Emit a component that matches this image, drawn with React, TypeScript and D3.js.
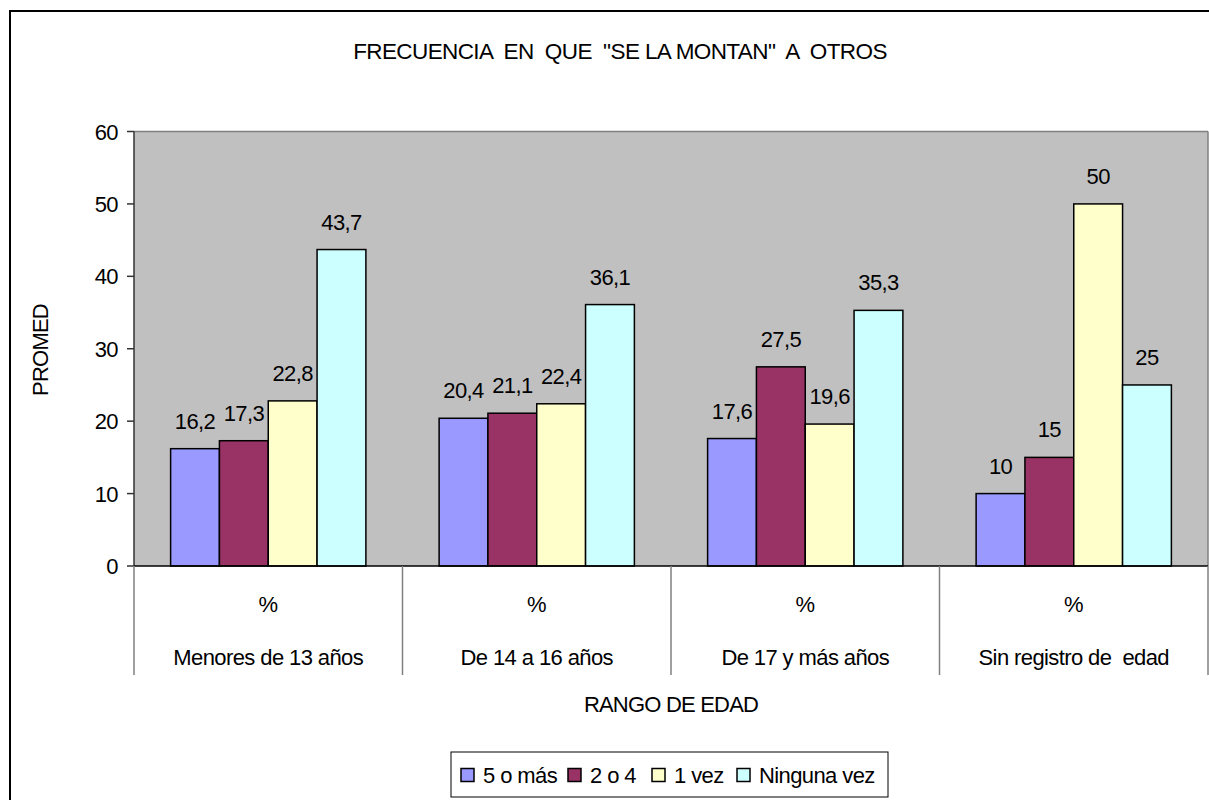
import React from "react";
import * as d3 from "d3";

const categories = ["Menores de 13 años", "De 14 a 16 años", "De 17 y más años", "Sin registro de  edad"];
const seriesNames = ["5 o más", "2 o 4", "1 vez", "Ninguna vez"];
const serie5oMas = [16.2, 20.4, 17.6, 10];
const serie2o4 = [17.3, 21.1, 27.5, 15];
const serie1vez = [22.8, 22.4, 19.6, 50];
const serieNinguna = [43.7, 36.1, 35.3, 25];
const yTicks = [0, 10, 20, 30, 40, 50, 60];
const colors = ["#9999FF", "#993366", "#FFFFCC", "#CCFFFF"];

const W = 1209;
const H = 800;
const FONT = "'Liberation Sans', Arial, sans-serif";

export default function App() {
  const series = [serie5oMas, serie2o4, serie1vez, serieNinguna];
  const left = 134, right = 1208, top = 131.5, bottom = 566;
  const y = d3.scaleLinear().domain([0, 60]).range([bottom, top]);
  const x0 = d3.scaleBand<string>().domain(categories).range([left, right]).paddingInner(0).paddingOuter(0);
  const x1 = d3.scaleBand<string>().domain(seriesNames).range([0, x0.bandwidth()]).paddingInner(0).paddingOuter(0.75);
  const fmt = (v: number) => String(v).replace(".", ",");
  const legendSq = [461, 568, 652, 737];

  return (
    <svg width={W} height={H} style={{ position: "absolute", left: 0, top: 0 }} fontFamily={FONT}>
      <rect x={0} y={0} width={W} height={H} fill="#fff" />
      <rect x={10} y={11} width={1240} height={820} fill="#fff" stroke="#000" strokeWidth={2} />
      <text x={620} y={59} textAnchor="middle" fontSize={22.5} letterSpacing={-0.6} fill="#000" style={{ whiteSpace: "pre" }}>
        {'FRECUENCIA  EN  QUE  "SE LA MONTAN"  A  OTROS'}
      </text>
      {/* plot area */}
      <rect x={left} y={top} width={right - left} height={bottom - top} fill="#C0C0C0" />
      <line x1={left} x2={right} y1={top} y2={top} stroke="#808080" strokeWidth={1.5} />
      <line x1={right} x2={right} y1={top} y2={bottom} stroke="#808080" strokeWidth={1.5} />
      {/* bars */}
      {categories.map((c, ci) => (
        <g key={c} transform={`translate(${x0(c)},0)`}>
          {seriesNames.map((s, si) => {
            const v = series[si][ci];
            const bx = x1(s)!;
            return (
              <g key={s}>
                <rect x={bx} y={y(v)} width={x1.bandwidth()} height={bottom - y(v)} fill={colors[si]} stroke="#000" strokeWidth={1.5} />
                <text x={bx + x1.bandwidth() / 2} y={y(v) - 20} textAnchor="middle" fontSize={22} letterSpacing={-0.6} fill="#000">
                  {fmt(v)}
                </text>
              </g>
            );
          })}
        </g>
      ))}
      {/* y axis */}
      <line x1={left} x2={left} y1={top} y2={bottom} stroke="#333" strokeWidth={1.5} />
      {yTicks.map((t) => (
        <g key={t}>
          <line x1={left - 7} x2={left} y1={y(t)} y2={y(t)} stroke="#333" strokeWidth={1.5} />
          <text x={118} y={y(t) + 8} textAnchor="end" fontSize={22} letterSpacing={-0.6} fill="#000">
            {t}
          </text>
        </g>
      ))}
      {/* x axis */}
      <line x1={left} x2={right} y1={bottom} y2={bottom} stroke="#000" strokeWidth={1.5} />
      {categories.map((c) => (
        <line key={"sep" + c} x1={x0(c)!} x2={x0(c)!} y1={bottom} y2={675} stroke="#808080" strokeWidth={1.5} />
      ))}
      <line x1={right} x2={right} y1={bottom} y2={675} stroke="#808080" strokeWidth={1.5} />
      {categories.map((c) => (
        <g key={"lab" + c}>
          <text x={x0(c)! + x0.bandwidth() / 2} y={612} textAnchor="middle" fontSize={22} fill="#000">%</text>
          <text x={x0(c)! + x0.bandwidth() / 2} y={665} textAnchor="middle" fontSize={22} letterSpacing={-0.6} fill="#000" style={{ whiteSpace: "pre" }}>
            {c}
          </text>
        </g>
      ))}
      <text x={(left + right) / 2} y={712} textAnchor="middle" fontSize={22} letterSpacing={-0.8} fill="#000">
        RANGO DE EDAD
      </text>
      <text transform={`translate(48,350) rotate(-90)`} textAnchor="middle" fontSize={22} letterSpacing={-0.8} fill="#000">
        PROMED
      </text>
      {/* legend */}
      <rect x={451} y={752} width={437} height={45} fill="#fff" stroke="#000" strokeWidth={1} />
      {seriesNames.map((s, i) => (
        <g key={"lg" + s}>
          <rect x={legendSq[i]} y={768.5} width={13} height={13} fill={colors[i]} stroke="#000" strokeWidth={1.5} />
          <text x={legendSq[i] + 22} y={783} fontSize={22} letterSpacing={-0.6} fill="#000">
            {s}
          </text>
        </g>
      ))}
    </svg>
  );
}
